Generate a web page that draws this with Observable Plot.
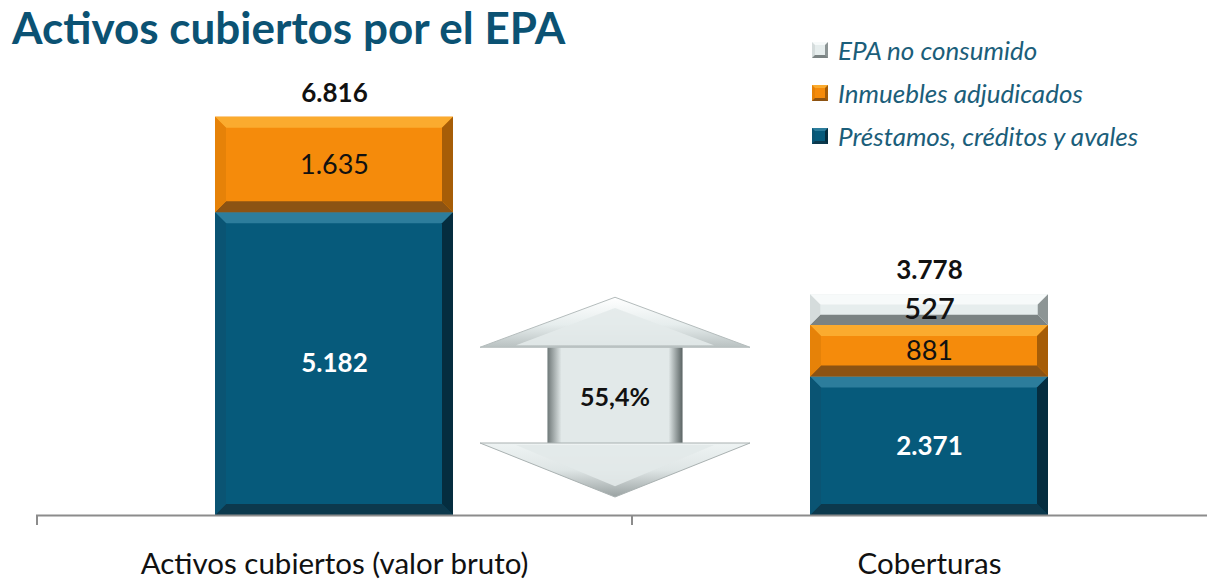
<!DOCTYPE html>
<html>
<head>
<meta charset="utf-8">
<script src="https://cdn.jsdelivr.net/npm/d3@7"></script>
<script src="https://cdn.jsdelivr.net/npm/@observablehq/plot@0.6"></script>
<style>
  body { margin: 0; background: #fff; }
  #wrap { position: relative; width: 1207px; height: 582px; overflow: hidden; font-family: Lato, "Open Sans", sans-serif; }
  #title { position: absolute; left: 12px; top: 0px; font-weight: 700; font-size: 44px; line-height: 54px; color: #0b5273; white-space: nowrap; z-index: 2; }
  #legend { position: absolute; left: 812px; top: 28px; z-index: 2; }
  .li { display: flex; align-items: center; height: 43px; font-style: italic; font-size: 26px; color: #1b5e7a; white-space: nowrap; }
  .sw { width: 16px; height: 16px; margin-right: 10px; box-sizing: border-box; }
  #chart { position: absolute; left: 0; top: 62px; z-index: 1; }
</style>
</head>
<body>
<div id="wrap">
  <div id="title">Activos cubiertos por el EPA</div>
  <div id="legend"></div>
  <div id="chart"></div>
</div>
<script>
// ---- data ----
const categories = ["Activos cubiertos (valor bruto)", "Coberturas"];
const seriesNames = ["Préstamos, créditos y avales", "Inmuebles adjudicados", "EPA no consumido"];
const prestamos = [5182, 2371];
const inmuebles = [1635, 881];
const epaNoConsumido = [null, 527];
const totalValues = [6816, 3778];

// ---- styles ----
const seriesColors = ["#065a7b", "#f58b0b", "#e6eded"];
const bevel = {
  "#065a7b": {top: "#2c7d9c", left: "#0a5473", right: "#052d3f", bottom: "#0c394d"},
  "#f58b0b": {top: "#fbab2e", left: "#e68208", right: "#a65d07", bottom: "#8c5313"},
  "#e6eded": {top: "#f7fafa", left: "#d5dcdc", right: "#8d9595", bottom: "#7b8383"}
};

const rows = [];
categories.forEach((c, i) => {
  [prestamos, inmuebles, epaNoConsumido].forEach((arr, k) => {
    if (arr[i] != null) rows.push({category: c, series: seriesNames[k], value: arr[i]});
  });
});
const totals = categories.map((c, i) => ({category: c, total: totalValues[i]}));
const locale = d3.formatLocale({decimal: ",", thousands: ".", grouping: [3], currency: ["", " €"]});
const fmt = locale.format(",d");
const pct = locale.format(".1%");
const coverage = totalValues[1] / totalValues[0];

// ---- legend (top to bottom: reverse stacking order) ----
const legend = d3.select("#legend");
[2, 1, 0].forEach(k => {
  const c = seriesColors[k], bv = bevel[c];
  const row = legend.append("div").attr("class", "li");
  row.append("div").attr("class", "sw")
    .style("background", c)
    .style("border-style", "solid").style("border-width", "3px")
    .style("border-color", `${bv.top} ${bv.right} ${bv.bottom} ${bv.left}`);
  row.append("span").text(seriesNames[k]);
});

// ---- chart ----
const W = 1207, H = 520;
const xRange = [36, 1226], pIn = 0.6, pOut = 0.3;
const step = (xRange[1] - xRange[0]) / (categories.length - pIn + 2 * pOut);
const FONT = "Lato, 'Open Sans', sans-serif";

const chart = Plot.plot({
  width: W, height: H,
  marginLeft: 36, marginRight: 0, marginTop: 44, marginBottom: 67,
  style: {fontFamily: FONT, background: "transparent", overflow: "visible"},
  x: {type: "band", domain: categories, range: xRange, paddingInner: pIn, paddingOuter: pOut, align: 0.5},
  y: {domain: [0, 7000], axis: null},
  color: {domain: seriesNames, range: seriesColors},
  marks: [
    Plot.barY(rows, {x: "category", y: "value", fill: "series"}),
    Plot.ruleY([0], {stroke: "#8c8c8c", strokeWidth: 2}),
    Plot.ruleX(categories, {x: d => d, y1: 0, y2: 0, insetBottom: -10, dx: -step / 2, stroke: "#8c8c8c", strokeWidth: 2}),
    Plot.axisX({tickSize: 0, tickPadding: 38, fontSize: 29.5, fill: "#111", label: null}),
    Plot.text(rows, Plot.stackY({x: "category", y: "value",
      text: d => d.series === seriesNames[0] ? fmt(d.value) : null,
      fill: "white", fontWeight: "bold", fontSize: 26})),
    Plot.text(rows, Plot.stackY({x: "category", y: "value",
      text: d => d.series === seriesNames[1] ? fmt(d.value) : null,
      fill: "#111", fontSize: 27})),
    Plot.text(rows, Plot.stackY({x: "category", y: "value",
      text: d => d.series === seriesNames[2] ? fmt(d.value) : null,
      fill: "#111", fontWeight: 600, fontSize: 29})),
    Plot.text(totals, {x: "category", y: "total", text: d => fmt(d.total), dy: -24,
      fill: "#111", fontWeight: "bold", fontSize: 26})
  ]
});
document.getElementById("chart").append(chart);

// ---- bevel effect on bars ----
const svg = d3.select(chart);
const rects = svg.selectAll('g[aria-label="bar"] rect').nodes();
rects.forEach(node => {
  const r = d3.select(node);
  const x = +r.attr("x"), y = +r.attr("y"), w = +r.attr("width"), h = +r.attr("height");
  const fill = (r.attr("fill") || "").toLowerCase();
  const bv = bevel[fill] || bevel[d3.color(fill).formatHex()];
  if (!bv) return;
  const b = Math.min(11, h / 3);
  const g = d3.select(node.parentNode);
  const poly = (pts, col) => g.append("polygon").attr("points", pts.map(p => p.join(",")).join(" ")).attr("fill", col);
  poly([[x, y], [x + w, y], [x + w - b, y + b], [x + b, y + b]], bv.top);
  poly([[x, y + h], [x + w, y + h], [x + w - b, y + h - b], [x + b, y + h - b]], bv.bottom);
  poly([[x, y], [x + b, y + b], [x + b, y + h - b], [x, y + h]], bv.left);
  poly([[x + w, y], [x + w - b, y + b], [x + w - b, y + h - b], [x + w, y + h]], bv.right);
});
svg.selectAll('g[aria-label="text"]').raise();

// ---- double arrow annotation ----
const ys = chart.scale("y");
const yf = ys.apply ? v => ys.apply(v) : d3.scaleLinear(ys.domain, ys.range);
const xb = d3.scaleBand(categories, xRange).paddingInner(pIn).paddingOuter(pOut).align(0.5);
const gapMid = (xb(categories[0]) + xb.bandwidth() + xb(categories[1])) / 2;
const cx = gapMid - 16;
const aTop = yf(totalValues[1]) + 3, aBot = yf(0) - 18;
const headW = 135, shaftW = 67.5, headT = 50, headB = 54;
const defs = svg.append("defs");
const grad = (id, x2, y2, stops) => {
  const g = defs.append("linearGradient").attr("id", id).attr("x1", 0).attr("y1", 0).attr("x2", x2).attr("y2", y2);
  stops.forEach(([o, c]) => g.append("stop").attr("offset", o).attr("stop-color", c));
};
grad("shL", 1, 0, [[0, "#6f7878"], [1, "#e2e9e9"]]);
grad("shR", 1, 0, [[0, "#e2e9e9"], [1, "#5a6363"]]);
grad("hdT", 0, 1, [[0, "#ffffff"], [0.55, "#e6eded"], [1, "#b9c1c1"]]);
grad("hdB", 0, 1, [[0, "#eef3f3"], [0.5, "#dfe6e6"], [1, "#9aa2a2"]]);
const arrow = svg.append("g").attr("class", "arrow");
const P = a => a.map(p => p.join(",")).join(" ");
const yH1 = aTop + headT, yH2 = aBot - headB;
arrow.append("rect").attr("x", cx - shaftW).attr("y", yH1 - 1).attr("width", 2 * shaftW).attr("height", yH2 - yH1 + 2).attr("fill", "#e2e9e9");
arrow.append("rect").attr("x", cx - shaftW).attr("y", yH1).attr("width", 14).attr("height", yH2 - yH1).attr("fill", "url(#shL)");
arrow.append("rect").attr("x", cx + shaftW - 14).attr("y", yH1).attr("width", 14).attr("height", yH2 - yH1).attr("fill", "url(#shR)");
arrow.append("polygon").attr("points", P([[cx, aTop], [cx + headW, yH1], [cx - headW, yH1]]))
  .attr("fill", "url(#hdT)").attr("stroke", "#b4bcbc").attr("stroke-width", 1);
arrow.append("polygon").attr("points", P([[cx - headW, yH2], [cx + headW, yH2], [cx, aBot]]))
  .attr("fill", "url(#hdB)").attr("stroke", "#a9b1b1").attr("stroke-width", 1);
const bi = 12;
arrow.append("polygon").attr("points", P([[cx, aTop + bi * 0.9], [cx + headW - 3 * bi, yH1 - 2], [cx - headW + 3 * bi, yH1 - 2]]))
  .attr("fill", "#e3eaea").attr("opacity", 0.9);
arrow.append("polygon").attr("points", P([[cx - headW + 3 * bi, yH2 + 2], [cx + headW - 3 * bi, yH2 + 2], [cx, aBot - bi * 0.9]]))
  .attr("fill", "#e2e9e9").attr("opacity", 0.9);
arrow.append("text").attr("x", cx).attr("y", (aTop + aBot) / 2).attr("dy", "0.35em")
  .attr("text-anchor", "middle").attr("font-family", FONT).attr("font-weight", "bold")
  .attr("font-size", 25).attr("fill", "#111").text(pct(coverage));
</script>
</body>
</html>
